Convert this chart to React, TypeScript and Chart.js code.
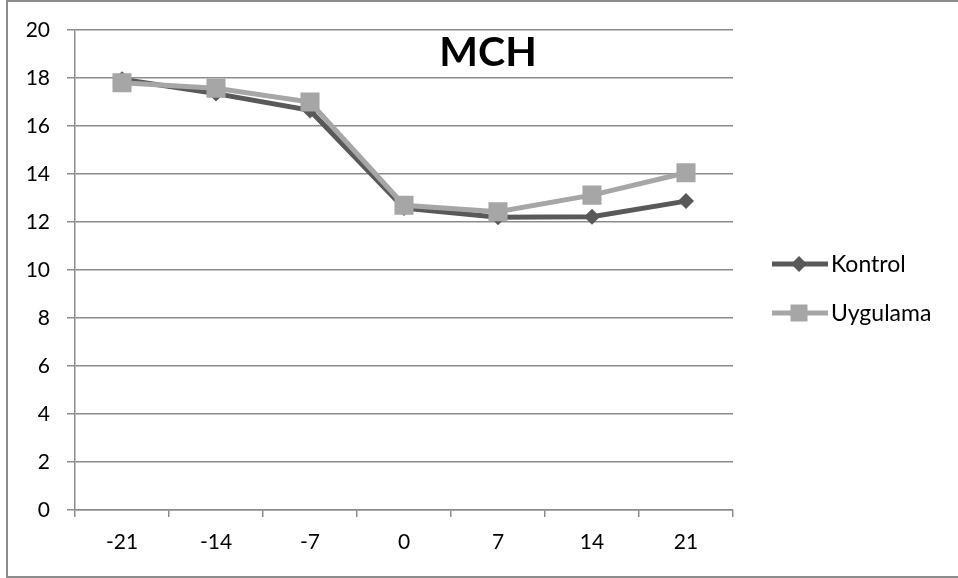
import { useEffect, useRef } from "react";
import { Chart, registerables } from "chart.js";

Chart.register(...registerables);

const categories = ["-21", "-14", "-7", "0", "7", "14", "21"];
const kontrol = [17.95, 17.35, 16.65, 12.58, 12.2, 12.22, 12.87];
const uygulama = [17.8, 17.57, 17.0, 12.7, 12.43, 13.12, 14.05];
const seriesNames = ["Kontrol", "Uygulama"];
const seriesColors = ["#595959", "#a6a6a6"];
const yMin = 0;
const yMax = 20;
const yStep = 2;
const titleText = "MCH";

const FONT = "Lato, 'Open Sans', sans-serif";
const GRID = "#8c8c8c";

const framePlugin = {
  id: "frame",
  beforeDraw(chart: any) {
    const ctx = chart.ctx;
    ctx.save();
    ctx.fillStyle = "#ffffff";
    ctx.fillRect(0, 0, chart.width, chart.height);
    ctx.strokeStyle = "#8c8c8c";
    ctx.lineWidth = 2;
    ctx.strokeRect(7, 1, chart.width + 10, chart.height - 2);
    ctx.restore();
  },
};

const overlayPlugin = {
  id: "overlay",
  afterDraw(chart: any) {
    const ctx = chart.ctx;
    ctx.save();
    // title
    ctx.fillStyle = "#000000";
    ctx.font = `bold 41px ${FONT}`;
    ctx.textAlign = "center";
    ctx.textBaseline = "middle";
    ctx.fillText(titleText, 488, 53);
    // legend
    const datasets = chart.data.datasets;
    const legendOrder = [0, 1];
    legendOrder.forEach((di, i) => {
      const ds = datasets[di];
      const y = 264 + i * 49;
      ctx.strokeStyle = ds.borderColor;
      ctx.lineWidth = 5;
      ctx.beginPath();
      ctx.moveTo(772, y);
      ctx.lineTo(828, y);
      ctx.stroke();
      ctx.fillStyle = ds.borderColor;
      const cx = 799;
      if (ds.pointStyle === "rectRot") {
        const r = 8;
        ctx.beginPath();
        ctx.moveTo(cx - r, y);
        ctx.lineTo(cx, y - r);
        ctx.lineTo(cx + r, y);
        ctx.lineTo(cx, y + r);
        ctx.closePath();
        ctx.fill();
      } else {
        const s = 8.5;
        ctx.fillRect(cx - s, y - s, 2 * s, 2 * s);
      }
      ctx.fillStyle = "#000000";
      ctx.font = `23px ${FONT}`;
      ctx.textAlign = "left";
      ctx.textBaseline = "middle";
      ctx.fillText(ds.label, 831, y + 1);
    });
    ctx.restore();
  },
};

export default function App() {
  const ref = useRef<HTMLCanvasElement | null>(null);

  useEffect(() => {
    if (!ref.current) return;
    const chart = new Chart(ref.current, {
      type: "line",
      data: {
        labels: categories,
        datasets: [
          {
            label: seriesNames[0],
            data: kontrol,
            borderColor: seriesColors[0],
            backgroundColor: seriesColors[0],
            borderWidth: 5,
            pointStyle: "rectRot",
            pointRadius: 8,
            pointBorderWidth: 0,
            tension: 0,
            order: 1,
          },
          {
            label: seriesNames[1],
            data: uygulama,
            borderColor: seriesColors[1],
            backgroundColor: seriesColors[1],
            borderWidth: 5,
            pointStyle: "rect",
            pointRadius: 13.5,
            pointBorderWidth: 0,
            tension: 0,
            order: 0,
          },
        ],
      },
      options: {
        responsive: false,
        animation: false,
        devicePixelRatio: 1,
        layout: { padding: { left: 0, top: 30, right: 225, bottom: 0 } },
        plugins: {
          legend: { display: false },
          title: { display: false },
          tooltip: { enabled: false },
        },
        scales: {
          x: {
            type: "category",
            offset: true,
            afterFit: (s: any) => {
              s.height = 68;
            },
            grid: {
              offset: true,
              drawOnChartArea: false,
              drawTicks: true,
              tickLength: 7,
              color: GRID,
              lineWidth: 1.5,
            },
            border: { display: true, color: GRID, width: 1.5 },
            ticks: {
              color: "#000000",
              font: { family: FONT, size: 21 },
              padding: 13,
              maxRotation: 0,
            },
          },
          y: {
            min: yMin,
            max: yMax,
            afterFit: (s: any) => {
              s.width = 75;
            },
            grid: {
              color: GRID,
              lineWidth: 1.5,
              tickLength: 8,
            },
            border: { display: true, color: GRID, width: 1.5 },
            ticks: {
              stepSize: yStep,
              color: "#000000",
              font: { family: FONT, size: 21 },
              padding: 17,
            },
          },
        },
      },
      plugins: [framePlugin, overlayPlugin],
    });
    return () => chart.destroy();
  }, []);

  return (
    <div style={{ position: "fixed", left: 0, top: 0, width: 958, height: 578 }}>
      <canvas ref={ref} width={958} height={578} style={{ width: 958, height: 578, display: "block" }} />
    </div>
  );
}
